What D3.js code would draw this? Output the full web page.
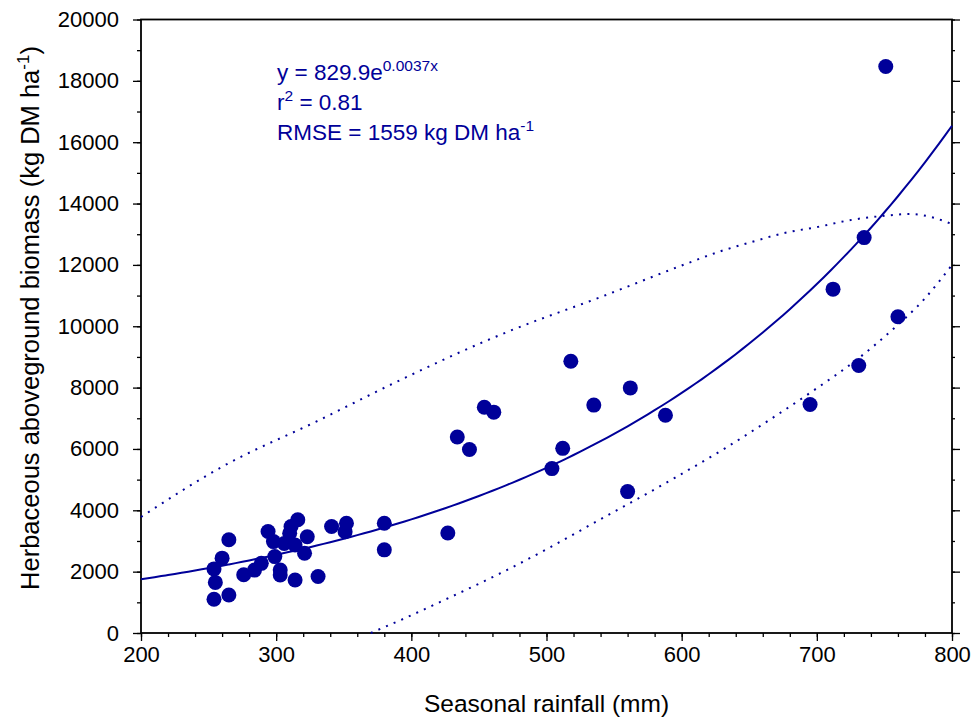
<!DOCTYPE html>
<html>
<head>
<meta charset="utf-8">
<script src="https://cdn.jsdelivr.net/npm/d3@7"></script>
<style>
  body { margin: 0; background: #fff; }
  svg text { font-family: "Liberation Sans", Arial, sans-serif; }
</style>
</head>
<body>
<div id="chart"></div>
<script>
// observed points: seasonal rainfall (mm) vs herbaceous biomass (kg DM/ha)
var rainfall = [254, 255, 254, 260, 265, 265, 276, 284, 289, 294, 298, 299, 303, 303, 306,
  310, 311, 316, 314, 314, 321, 323, 331, 341, 351, 352, 380, 380, 427, 434, 443, 454,
  461, 504, 512, 518, 535, 560, 562, 588, 695, 712, 731, 735, 751, 760];
var biomass = [1100, 1650, 2090, 2440, 1240, 3040, 1900, 2050, 2270, 3310, 2980, 2490, 2050, 1890, 2920,
  3250, 3470, 3690, 2870, 1730, 2600, 3140, 1840, 3470, 3300, 3580, 3580, 2710, 3260, 6390, 5980, 7360,
  7200, 5360, 6020, 8860, 7430, 4610, 7990, 7100, 7450, 11210, 8720, 12890, 18470, 10310];

// dotted bounds
var upperX = [200, 260, 330, 392, 455, 473, 540, 603, 627, 652, 676, 701, 726, 750, 769, 787, 800];
var upperY = [3780, 5420, 6900, 8250, 9520, 9850, 10950, 12030, 12420, 12750, 13040, 13240, 13470, 13600, 13660, 13530, 13330];
var lowerX = [370, 392, 429, 466, 503, 540, 577, 595, 632, 663, 700, 731, 755, 780, 800];
var lowerY = [0, 420, 1170, 1950, 2800, 3710, 4610, 5060, 6020, 6890, 7980, 8960, 9850, 10910, 12000];

// fitted exponential y = a*e^(b*x)
var fitA = 829.9, fitB = 0.00374;
var fitX = d3.range(200, 801, 5);

var xTicks = [200, 300, 400, 500, 600, 700, 800];
var yTicks = [0, 2000, 4000, 6000, 8000, 10000, 12000, 14000, 16000, 18000, 20000];

var W = 978, H = 724;
var margin = {top: 19.5, right: 26, bottom: 91, left: 141};
var w = W - margin.left - margin.right, h = H - margin.top - margin.bottom;
var blue = "#000099";

var svg = d3.select("#chart").append("svg")
  .attr("width", W).attr("height", H);
var g = svg.append("g")
  .attr("transform", "translate(" + margin.left + "," + margin.top + ")");

var x = d3.scaleLinear().domain([200, 800]).range([0, w]);
var y = d3.scaleLinear().domain([0, 20000]).range([h, 0]);

// minor ticks
g.append("g").attr("transform", "translate(0," + h + ")")
  .call(d3.axisBottom(x).tickValues(d3.range(200, 801, 20)).tickSize(4).tickFormat(""));
g.append("g")
  .call(d3.axisLeft(y).tickValues(d3.range(0, 20001, 1000)).tickSize(4).tickFormat(""));
g.append("g").attr("transform", "translate(" + w + ",0)")
  .call(d3.axisLeft(y).tickValues(d3.range(0, 20001, 1000)).tickSize(-3).tickFormat(""));
g.append("g").attr("transform", "translate(" + w + ",0)")
  .call(d3.axisLeft(y).tickValues(yTicks).tickSize(-8).tickFormat(""));

// major axes
g.append("g").attr("transform", "translate(0," + h + ")")
  .call(d3.axisBottom(x).tickValues(xTicks).tickSize(8).tickPadding(5).tickFormat(d3.format("d")));
g.append("g")
  .call(d3.axisLeft(y).tickValues(yTicks).tickSize(8).tickPadding(14).tickFormat(d3.format("d")));

g.selectAll(".domain").remove();
g.selectAll(".tick line").attr("stroke", "#000").attr("stroke-width", 1.3);
g.selectAll(".tick text").attr("font-size", 22).attr("fill", "#000");

// frame
g.append("rect").attr("x", 0).attr("y", 0).attr("width", w).attr("height", h)
  .attr("fill", "none").attr("stroke", "#000").attr("stroke-width", 1.8);

// dotted bounds
var line = d3.line().curve(d3.curveMonotoneX)
  .x(function(d) { return x(d[0]); })
  .y(function(d) { return y(d[1]); });
g.append("path").datum(d3.zip(upperX, upperY))
  .attr("d", line).attr("fill", "none").attr("stroke", blue)
  .attr("stroke-width", 2).attr("stroke-dasharray", "2,6.3");
g.append("path").datum(d3.zip(lowerX, lowerY))
  .attr("d", line).attr("fill", "none").attr("stroke", blue)
  .attr("stroke-width", 2).attr("stroke-dasharray", "2,6.3");

// fitted curve
g.append("path").datum(fitX.map(function(v) { return [v, fitA * Math.exp(fitB * v)]; }))
  .attr("d", line).attr("fill", "none").attr("stroke", blue).attr("stroke-width", 2);

// points
g.selectAll("circle.pt").data(d3.zip(rainfall, biomass)).enter()
  .append("circle").attr("class", "pt")
  .attr("cx", function(d) { return x(d[0]); })
  .attr("cy", function(d) { return y(d[1]); })
  .attr("r", 7.5).attr("fill", blue);

// equation text
var eq = svg.append("g").attr("fill", blue).attr("font-size", 22.5);
var t1 = eq.append("text").attr("x", 277).attr("y", 80);
t1.append("tspan").text("y = 829.9e");
t1.append("tspan").attr("font-size", 15.5).attr("dy", -9).text("0.0037x");
var t2 = eq.append("text").attr("x", 277).attr("y", 110);
t2.append("tspan").text("r");
t2.append("tspan").attr("font-size", 15.5).attr("dy", -9).text("2");
t2.append("tspan").attr("dy", 9).text(" = 0.81");
var t3 = eq.append("text").attr("x", 277).attr("y", 140);
t3.append("tspan").text("RMSE = 1559 kg DM ha");
t3.append("tspan").attr("font-size", 15.5).attr("dy", -9).text("-1");

// axis titles
svg.append("text").attr("x", margin.left + w / 2).attr("y", 712)
  .attr("text-anchor", "middle").attr("font-size", 24.5).text("Seasonal rainfall (mm)");
var yl = svg.append("text").attr("transform", "translate(39," + 318 + ") rotate(-90)")
  .attr("text-anchor", "middle").attr("font-size", 25.5);
yl.append("tspan").text("Herbaceous aboveground biomass (kg DM ha");
yl.append("tspan").attr("font-size", 17).attr("dy", -10).text("-1");
yl.append("tspan").attr("dy", 10).text(")");
</script>
</body>
</html>
